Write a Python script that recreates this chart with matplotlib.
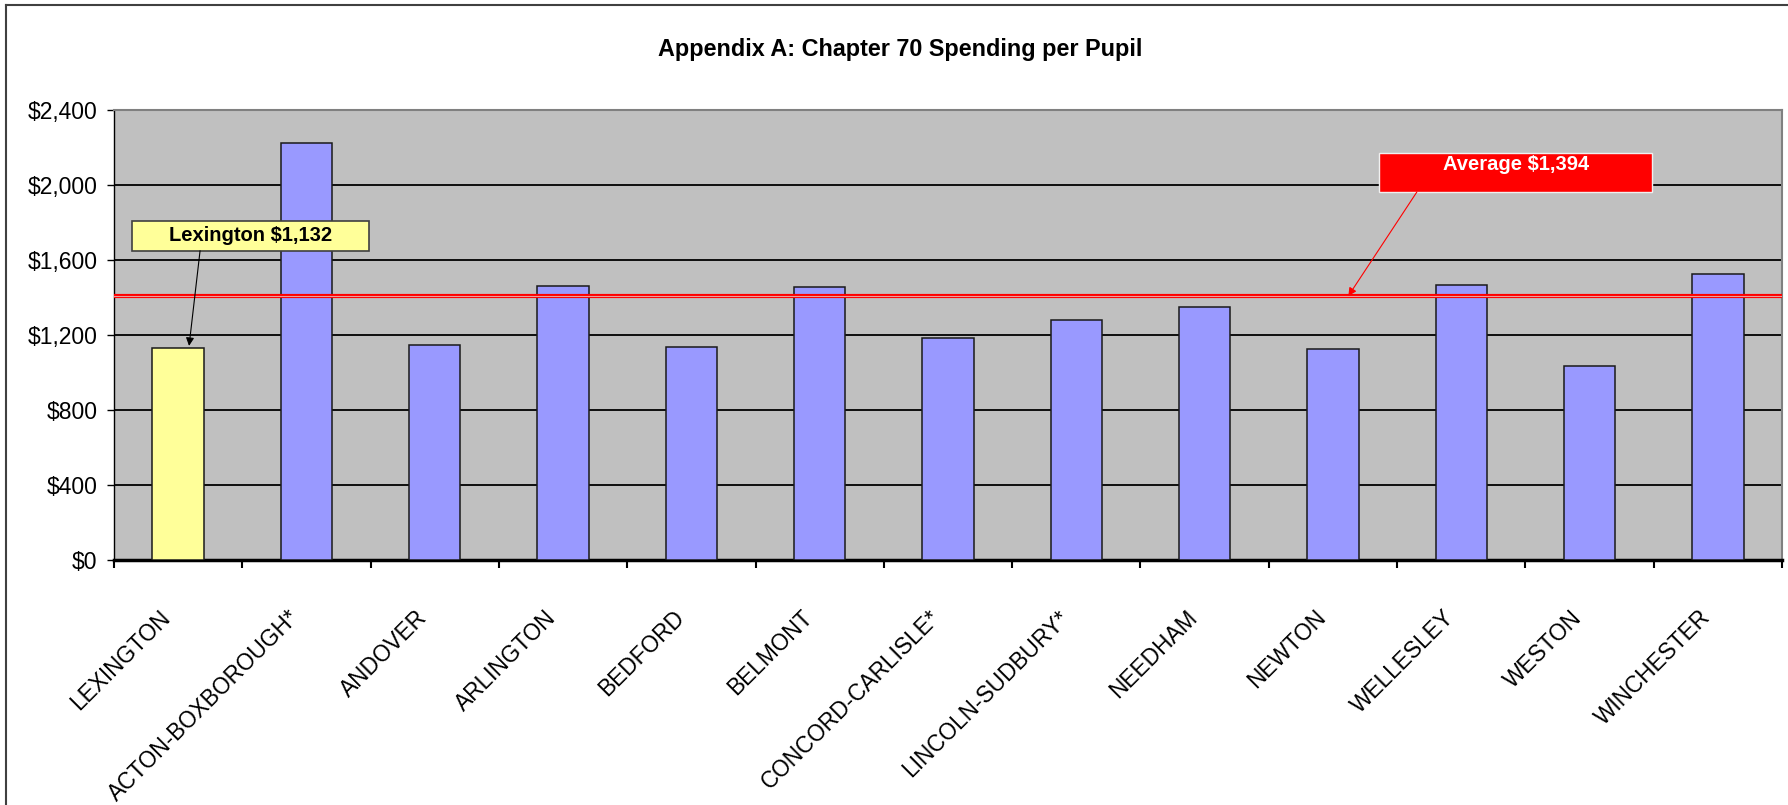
import numpy as np
import matplotlib
matplotlib.use("Agg")
import matplotlib.pyplot as plt
from matplotlib.patches import Rectangle
from matplotlib.lines import Line2D
from matplotlib.ticker import FuncFormatter, FixedLocator
from matplotlib.transforms import ScaledTranslation

matplotlib.rcParams['font.family'] = ['Liberation Sans', 'DejaVu Sans']

DISTRICTS = ["LEXINGTON", "ACTON-BOXBOROUGH*", "ANDOVER", "ARLINGTON", "BEDFORD",
             "BELMONT", "CONCORD-CARLISLE*", "LINCOLN-SUDBURY*", "NEEDHAM", "NEWTON",
             "WELLESLEY", "WESTON", "WINCHESTER"]
SPENDING = [1132, 2226, 1145, 1460, 1138, 1458, 1182, 1278, 1347, 1125, 1465, 1033, 1523]
AVERAGE = 1408          # where the line sits in the picture
AVERAGE_LABEL = "Average $1,394"
LEX_LABEL = "Lexington $1,132"
YTICKS = [0, 400, 800, 1200, 1600, 2000, 2400]


def to_dollars(y, pos):
    return "${:,.0f}".format(y)


fig = plt.figure(figsize=(17.88, 8.05), dpi=100)
ax = fig.add_axes([0.06376, 0.30435, 0.93288, 0.559])
ax.set_facecolor("#C0C0C0")

ind = np.arange(len(DISTRICTS))
colors = ["#FFFF99"] + ["#9999FF"] * (len(DISTRICTS) - 1)
ax.bar(ind, SPENDING, 0.4, color=colors, edgecolor="#1a1a1a", linewidth=1.1, zorder=3)

ax.set_xlim(-0.5, len(DISTRICTS) - 0.5)
ax.set_ylim(0, 2400)
ax.set_yticks(YTICKS)
ax.yaxis.set_major_formatter(FuncFormatter(to_dollars))
ax.yaxis.grid(True, color="black", linewidth=1.3, zorder=1)
ax.set_axisbelow(True)

# average line drawn as a double red line
ax.axhline(AVERAGE, color="#FF0000", linewidth=3.0, zorder=4)
ax.axhline(AVERAGE, color="#E8A0A0", linewidth=0.8, zorder=5)

# category labels at centres, tick marks at boundaries
ax.set_xticks(ind)
ax.set_xticklabels(DISTRICTS, rotation=45, ha="right", va="center",
                   rotation_mode="anchor", fontsize=16.3)
ax.xaxis.set_minor_locator(FixedLocator(np.arange(len(DISTRICTS) + 1) - 0.5))
ax.tick_params(axis="x", which="major", length=0, pad=0)
ax.tick_params(axis="x", which="minor", length=6, width=1.5, direction="out", color="black")
ax.tick_params(axis="y", length=5, width=1, labelsize=16.5, pad=7)
offset = ScaledTranslation(-0.11, -0.54, fig.dpi_scale_trans)
for lab in ax.get_xticklabels():
    lab.set_transform(lab.get_transform() + offset)

ax.spines["bottom"].set_linewidth(2.5)
ax.spines["left"].set_linewidth(1.0)
ax.spines["top"].set_color("#808080")
ax.spines["right"].set_color("#808080")
ax.spines["top"].set_linewidth(1.5)
ax.spines["right"].set_linewidth(1.5)

# Lexington callout
ax.add_patch(Rectangle((0.0106, 0.6873), 0.1423, 0.0667, transform=ax.transAxes,
                       facecolor="#FFFF99", edgecolor="#404040", linewidth=1.2,
                       zorder=6, clip_on=False))
ax.text(0.0818, 0.7222, LEX_LABEL, transform=ax.transAxes, ha="center", va="center",
        fontsize=14.5, fontweight="bold", color="black", zorder=7)
ax.annotate("", xy=(0.085, SPENDING[0] + 10), xycoords="data",
            xytext=(0.0516, 0.6873), textcoords="axes fraction",
            arrowprops=dict(arrowstyle="-|>", color="black", lw=0.8,
                            mutation_scale=12, shrinkA=0, shrinkB=0), zorder=7)

# average callout
ax.add_patch(Rectangle((0.7586, 0.8178), 0.1635, 0.0873, transform=ax.transAxes,
                       facecolor="#FF0000", edgecolor="#F0F0F0", linewidth=1.0,
                       zorder=6, clip_on=False))
ax.text(0.8404, 0.8778, AVERAGE_LABEL, transform=ax.transAxes, ha="center", va="center",
        fontsize=14.5, fontweight="bold", color="white", zorder=7)
ax.annotate("", xy=(9.12, AVERAGE), xycoords="data",
            xytext=(0.7811, 0.8178), textcoords="axes fraction",
            arrowprops=dict(arrowstyle="-|>", color="#FF0000", lw=0.8,
                            mutation_scale=12, shrinkA=0, shrinkB=0), zorder=7)

fig.text(0.5034, 0.938, "Appendix A: Chapter 70 Spending per Pupil",
         ha="center", va="center", fontsize=16.8, fontweight="bold")

# outer chart frame (top and left edges visible)
fig.add_artist(Line2D([5.5 / 1788, 1.0], [1 - 5 / 805, 1 - 5 / 805],
                      transform=fig.transFigure, color="#404040", linewidth=1.5))
fig.add_artist(Line2D([5.5 / 1788, 5.5 / 1788], [0.0, 1 - 5 / 805],
                      transform=fig.transFigure, color="#404040", linewidth=1.5))

fig.savefig("out.png", dpi=100)
plt.close()
